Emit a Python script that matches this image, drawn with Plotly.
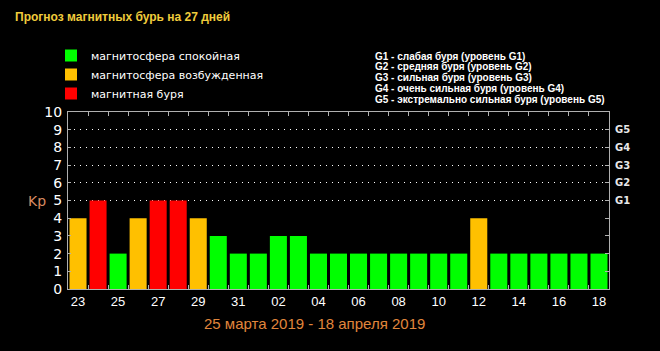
import plotly.graph_objects as go

dates = ["23", "24", "25", "26", "27", "28", "29", "30", "31", "01", "02", "03", "04",
         "05", "06", "07", "08", "09", "10", "11", "12", "13", "14", "15", "16", "17", "18"]
kp = [4, 5, 2, 4, 5, 5, 4, 3, 2, 2, 3, 3, 2, 2, 2, 2, 2, 2, 2, 2, 4, 2, 2, 2, 2, 2, 2]

status_names = ["магнитосфера спокойная", "магнитосфера возбужденная", "магнитная буря"]
status_colors = ["#00ff00", "#ffc000", "#ff0000"]
g_levels = [5, 6, 7, 8, 9]
g_labels = ["G1", "G2", "G3", "G4", "G5"]
g_desc = ["G1 - слабая буря (уровень G1)",
          "G2 - средняя буря (уровень G2)",
          "G3 - сильная буря (уровень G3)",
          "G4 - очень сильная буря (уровень G4)",
          "G5 - экстремально сильная буря (уровень G5)"]
title = "Прогноз магнитных бурь на 27 дней"
period = "25 марта 2019 - 18 апреля 2019"


def status(v):
    if v >= 5:
        return 2
    if v >= 4:
        return 1
    return 0


x = list(range(len(dates)))
fig = go.Figure()
for s, (name, col) in enumerate(zip(status_names, status_colors)):
    fig.add_trace(go.Bar(
        x=x, y=[v if status(v) == s else None for v in kp],
        name=name, marker=dict(color=col, line=dict(width=0)),
        showlegend=True,
    ))

axis_col = "#b0b0b0"
fig.update_layout(
    width=660, height=351,
    paper_bgcolor="black", plot_bgcolor="black",
    margin=dict(l=68, r=51, t=112, b=62, autoexpand=False),
    barmode="overlay", bargap=0.15,
    font=dict(family="Liberation Sans", color="white"),
    legend=dict(
        xref="container", yref="container",
        x=51 / 660, y=1 - 41 / 351, xanchor="left", yanchor="top",
        font=dict(family="DejaVu Sans", size=11, color="white"),
        bgcolor="rgba(0,0,0,0)", tracegroupgap=0, itemclick=False,
    ),
    xaxis=dict(
        range=[-0.5, len(dates) - 0.5],
        tickvals=x[::2], ticktext=dates[::2],
        ticks="", showgrid=False, zeroline=False,
        showline=True, linecolor=axis_col, linewidth=1, mirror="allticks",
        tickfont=dict(family="Liberation Sans", size=13, color="white"),
        minor=dict(tickvals=[i + 0.5 for i in x[:-1]], ticks="inside",
                   ticklen=4, tickcolor=axis_col, showgrid=False),
    ),
    yaxis=dict(
        range=[0, 10], tickvals=list(range(11)),
        ticks="inside", ticklen=3, tickcolor=axis_col,
        showgrid=False, zeroline=False,
        showline=True, linecolor=axis_col, linewidth=1,
        tickfont=dict(family="DejaVu Sans", size=14, color="white"),
        ticklabelstandoff=2,
    ),
    yaxis2=dict(
        range=[0, 10], overlaying="y", side="right",
        tickvals=g_levels, ticktext=g_labels,
        ticks="inside", ticklen=4, tickcolor=axis_col,
        showgrid=True, gridcolor="white", gridwidth=1, griddash="1px,5px",
        zeroline=False, showline=True, linecolor=axis_col, linewidth=1,
        tickfont=dict(family="DejaVu Sans", size=10, color="#e8e8e8", weight="bold"),
        ticklabelstandoff=3,
        minor=dict(tickvals=[1, 2, 3, 4], ticks="inside", ticklen=4,
                   tickcolor=axis_col, showgrid=False),
    ),
)
# invisible trace to activate yaxis2
fig.add_trace(go.Scatter(x=[x[0]], y=[0], yaxis="y2", mode="markers",
                         marker=dict(opacity=0), showlegend=False, hoverinfo="skip"))

annotations = [
    dict(text="<b>" + title + "</b>", x=13, y=17,
         font=dict(family="Liberation Sans", size=12, color="#f0cc3c")),
    dict(text="Kp", x=37, y=201, font=dict(family="DejaVu Sans", size=14, color="#d98a60")),
    dict(text=period, x=314, y=323, font=dict(family="Liberation Sans", size=15, color="#e0863c")),
]
for i, t in enumerate(g_desc):
    annotations.append(dict(text="<b>" + t + "</b>", x=373, y=56 + i * 10.8,
                            font=dict(family="Liberation Sans", size=10, color="white")))

px_w = 660 - 68 - 51
px_h = 351 - 112 - 62
ann_out = []
for a in annotations:
    xp, yp = a["x"], a["y"]
    a = dict(a)
    a["xref"] = "paper"
    a["yref"] = "paper"
    a["x"] = (xp - 68) / px_w
    a["y"] = (351 - 62 - yp) / px_h
    a["showarrow"] = False
    a["xanchor"] = "center" if a["text"] in ("Kp", period) else "left"
    a["yanchor"] = "middle"
    ann_out.append(a)
fig.update_layout(annotations=ann_out)

fig.write_html("out.html")
